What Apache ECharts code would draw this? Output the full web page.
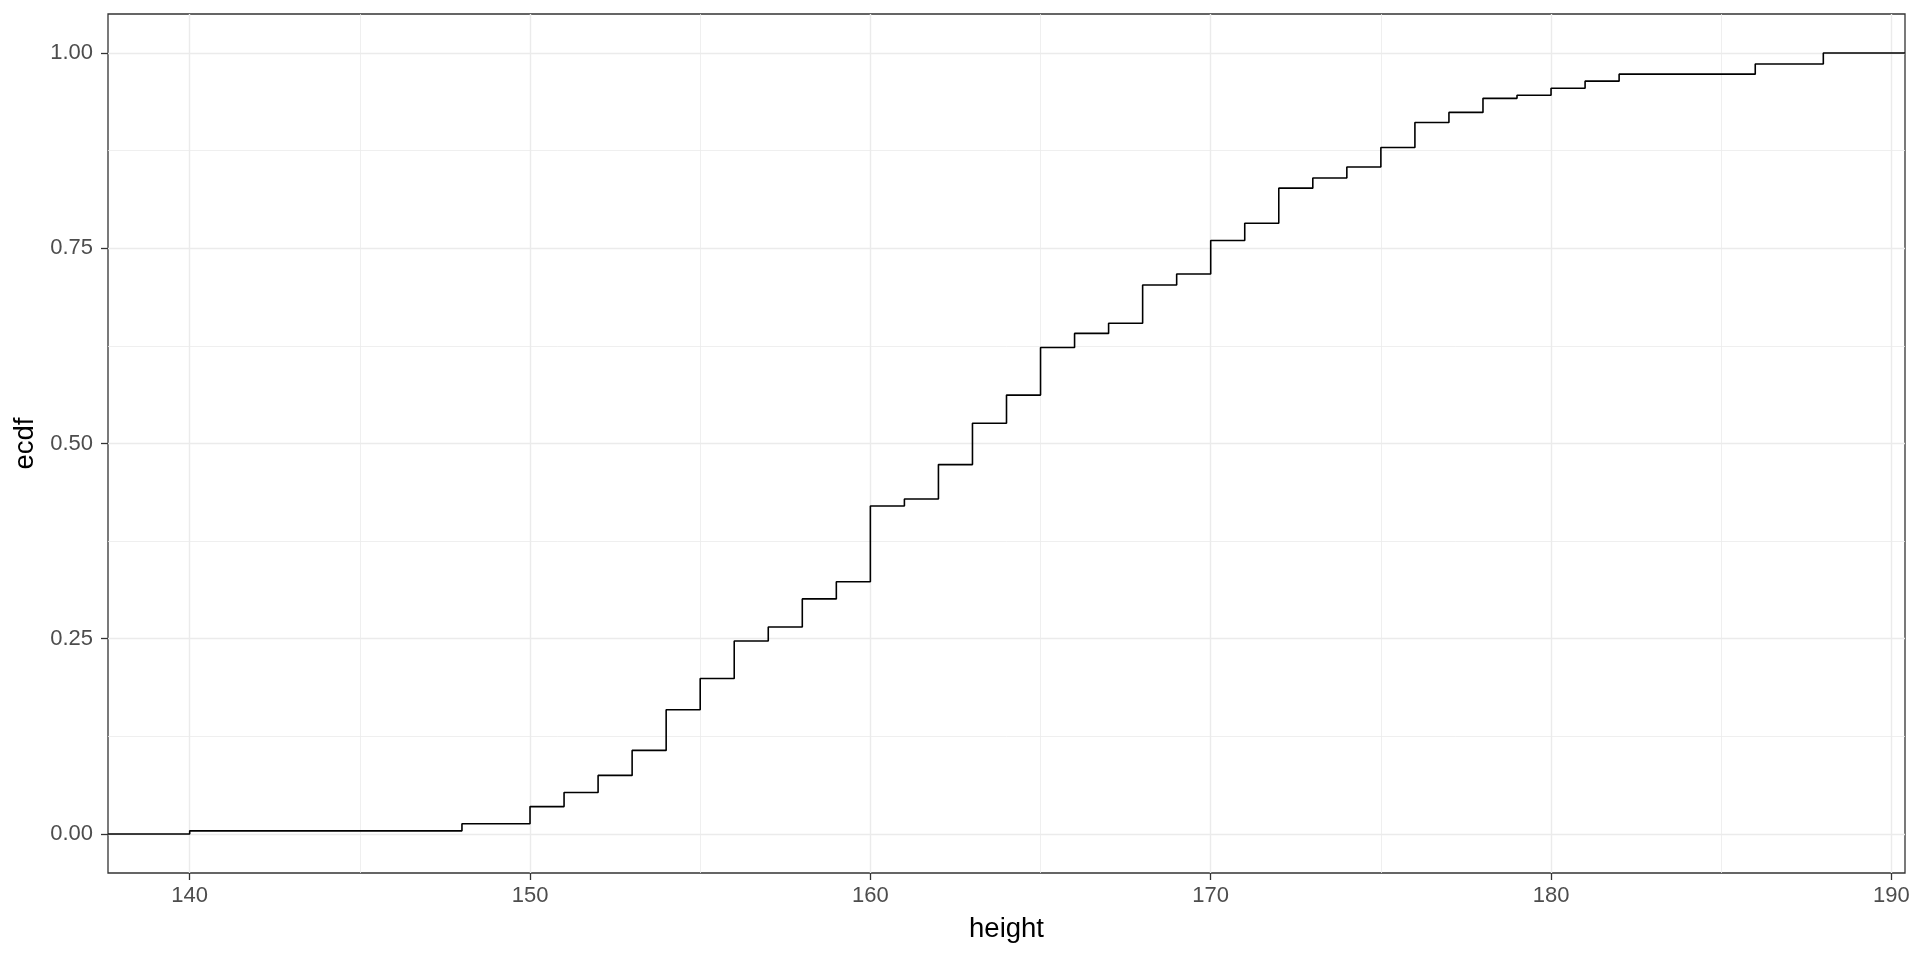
<!DOCTYPE html>
<html>
<head>
<meta charset="utf-8">
<script src="https://cdn.jsdelivr.net/npm/echarts@6/dist/echarts.min.js"></script>
<style>
  html, body { margin: 0; padding: 0; background: #ffffff; }
  #chart { width: 1920px; height: 960px; }
</style>
</head>
<body>
<div id="chart"></div>
<script>
// step positions (height) and the ecdf value reached at each one
var heights = [140, 148, 150, 151, 152, 153, 154, 155, 156, 157, 158, 159, 160, 161, 162, 163, 164, 165, 166, 167, 168, 169, 170, 171, 172, 173, 174, 175, 176, 177, 178, 179, 180, 181, 182, 186, 188];
var ecdfValues = [0.004, 0.013, 0.035, 0.053, 0.075, 0.107, 0.159, 0.199, 0.247, 0.265, 0.301, 0.323, 0.420, 0.429, 0.473, 0.526, 0.562, 0.623, 0.641, 0.654, 0.703, 0.717, 0.760, 0.782, 0.827, 0.840, 0.854, 0.879, 0.911, 0.924, 0.942, 0.946, 0.955, 0.964, 0.973, 0.986, 1.000];

var xTicks = [140, 150, 160, 170, 180, 190];
var xMinorTicks = [145, 155, 165, 175, 185];
var yTicks = [0, 0.25, 0.5, 0.75, 1];
var yMinorTicks = [0.125, 0.375, 0.625, 0.875];

// ggplot style 5% expansion around the data range
var xMin = 137.6, xMax = 190.4;
var yMin = -0.05, yMax = 1.05;

var font = '"Liberation Sans", Arial, sans-serif';

// pad the ecdf out to the panel edges like stat_ecdf does
var lineData = [[xMin, 0]];
for (var i = 0; i < heights.length; i++) {
    lineData.push([heights[i], ecdfValues[i]]);
}
lineData.push([xMax, 1]);

var majorGrid = { show: true, lineStyle: { color: '#EBEBEB', width: 1.4 } };
var minorGrid = { show: true, lineStyle: { color: '#EBEBEB', width: 0.8 } };

var option = {
    animation: false,
    backgroundColor: '#ffffff',
    grid: {
        left: 108,
        right: 15,
        top: 14,
        bottom: 87,
        show: true,
        borderColor: '#333333',
        borderWidth: 1.3,
        backgroundColor: 'transparent'
    },
    xAxis: [
        {
            type: 'value',
            position: 'bottom',
            min: xMin,
            max: xMax,
            name: 'height',
            nameLocation: 'middle',
            nameGap: 42,
            nameTextStyle: { fontFamily: font, fontSize: 27.5, color: '#000000' },
            axisLine: { show: false, onZero: false },
            axisTick: { show: true, length: 7, customValues: xTicks, lineStyle: { color: '#333333', width: 1.3 } },
            axisLabel: { customValues: xTicks, margin: 12, fontFamily: font, fontSize: 22, color: '#4D4D4D' },
            splitLine: majorGrid
        },
        {
            type: 'value',
            position: 'bottom',
            min: xMin,
            max: xMax,
            axisLine: { show: false, onZero: false },
            axisTick: { show: false, customValues: xMinorTicks },
            axisLabel: { show: false, customValues: xMinorTicks },
            splitLine: minorGrid
        }
    ],
    yAxis: [
        {
            type: 'value',
            position: 'left',
            min: yMin,
            max: yMax,
            name: 'ecdf',
            nameLocation: 'middle',
            nameGap: 66,
            nameTextStyle: { fontFamily: font, fontSize: 27.5, color: '#000000' },
            axisLine: { show: false, onZero: false },
            axisTick: { show: true, length: 7, customValues: yTicks, lineStyle: { color: '#333333', width: 1.3 } },
            axisLabel: {
                customValues: yTicks,
                margin: 15,
                fontFamily: font,
                fontSize: 22,
                color: '#4D4D4D',
                formatter: function (v) { return v.toFixed(2); }
            },
            splitLine: majorGrid
        },
        {
            type: 'value',
            position: 'left',
            min: yMin,
            max: yMax,
            axisLine: { show: false, onZero: false },
            axisTick: { show: false, customValues: yMinorTicks },
            axisLabel: { show: false, customValues: yMinorTicks },
            splitLine: minorGrid
        }
    ],
    series: [
        {
            name: 'ecdf',
            type: 'line',
            step: 'end',
            showSymbol: false,
            symbol: 'none',
            clip: true,
            data: lineData,
            lineStyle: { color: '#000000', width: 1.6 },
            z: 5
        }
    ]
};

var chart = echarts.init(document.getElementById('chart'));
chart.setOption(option);
</script>
</body>
</html>
